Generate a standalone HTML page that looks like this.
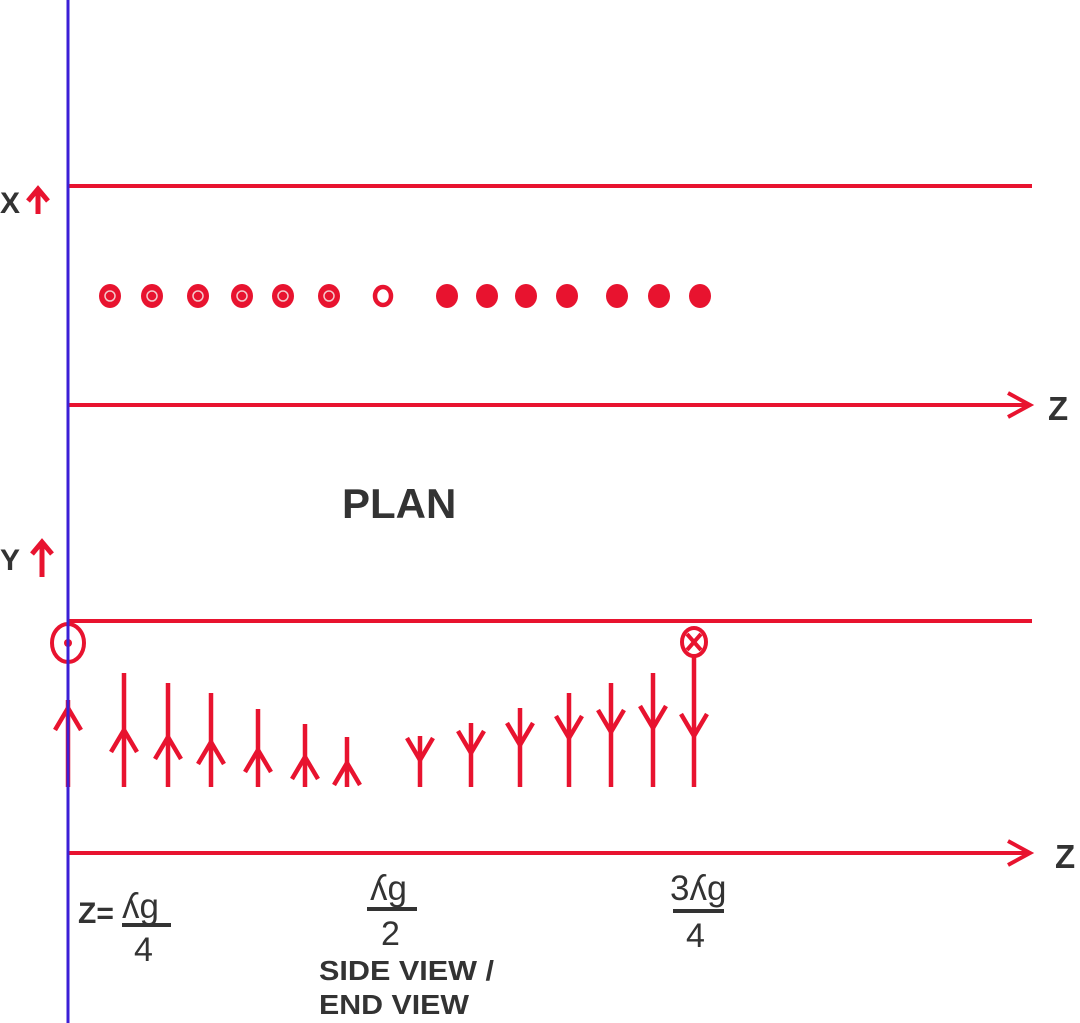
<!DOCTYPE html>
<html><head><meta charset="utf-8"><style>
html,body{margin:0;padding:0;background:#fff;}
svg{display:block;}
text{font-family:"Liberation Sans",sans-serif;fill:#333;}
</style></head><body>
<svg id="fig" width="1080" height="1023" viewBox="0 0 1080 1023">
  <g>
    <line x1="68" y1="186" x2="1032" y2="186" stroke="#e8132f" stroke-width="4"/>
    <line x1="68" y1="405" x2="1028" y2="405" stroke="#e8132f" stroke-width="4"/>
    <polyline points="1008,393 1030,405 1008,417" fill="none" stroke="#e8132f" stroke-width="4"/>
    <text x="1048" y="420" font-size="33" font-weight="bold">Z</text>
    <text x="0" y="213" font-size="30" font-weight="bold">X</text>
    <g stroke="#e8132f" stroke-width="5" fill="none">
      <line x1="38" y1="214" x2="38" y2="190"/><polyline points="28,201 38,189 48,201"/>
    </g>
    <g id="dots"></g>
    <text x="342" y="518" font-size="42" font-weight="bold">PLAN</text>
  </g>
  <g>
    <line x1="68" y1="621" x2="1032" y2="621" stroke="#e8132f" stroke-width="4"/>
    <line x1="68" y1="853" x2="1028" y2="853" stroke="#e8132f" stroke-width="4"/>
    <polyline points="1008,841 1030,853 1008,865" fill="none" stroke="#e8132f" stroke-width="4"/>
    <text x="1055" y="868" font-size="33" font-weight="bold">Z</text>
    <text x="0" y="570" font-size="30" font-weight="bold">Y</text>
    <g stroke="#e8132f" stroke-width="5" fill="none">
      <line x1="42" y1="577" x2="42" y2="543"/><polyline points="32,554 42,542 52,554"/>
    </g>
    <g id="arrows"></g>
    <g>
      <ellipse cx="68" cy="643" rx="16" ry="19" fill="none" stroke="#e8132f" stroke-width="4"/>
      <circle cx="68" cy="643" r="4" fill="#e8132f"/>
    </g>
    <g stroke="#e8132f" stroke-width="4" fill="none">
      <ellipse cx="694" cy="642" rx="12" ry="14"/>
      <line x1="687" y1="634" x2="701" y2="650"/><line x1="701" y1="634" x2="687" y2="650"/>
    </g>
  </g>
  <line x1="68" y1="0" x2="68" y2="1023" stroke="#3b1fd6" stroke-width="3"/>
  <g>
    <text x="78" y="923" font-size="30" font-weight="bold">Z=</text>
    <text x="122" y="918" font-size="35">ʎg</text>
    <line x1="122" y1="925" x2="171" y2="925" stroke="#333" stroke-width="4"/>
    <text x="134" y="961" font-size="34">4</text>
    <text x="370" y="900" font-size="35">ʎg</text>
    <line x1="367" y1="909" x2="417" y2="909" stroke="#333" stroke-width="4"/>
    <text x="381" y="945" font-size="34">2</text>
    <text x="670" y="900" font-size="35">3ʎg</text>
    <line x1="673" y1="911" x2="724" y2="911" stroke="#333" stroke-width="4"/>
    <text x="686" y="947" font-size="34">4</text>
    <text x="319" y="980" font-size="28" font-weight="bold" textLength="175" lengthAdjust="spacingAndGlyphs">SIDE VIEW /</text>
    <text x="319" y="1014" font-size="28" font-weight="bold" textLength="150" lengthAdjust="spacingAndGlyphs">END VIEW</text>
  </g>
</svg>
<script>
// plan view dot positions (z) and type
const dotZ = [110,152,198,242,283,329,383,447,487,526,567,617,659,700];
const dotType = ['out','out','out','out','out','out','ring','solid','solid','solid','solid','solid','solid','solid'];
// side view arrows: z position, tip top, chevron apex y, direction
const arrowZ = [68,124,168,211,258,305,347,420,471,520,569,611,653,694];
const arrowTop = [700,673,683,693,709,724,737,736,723,708,693,683,673,655];
const arrowApex = [708,730,737,742,750,757,763,760,753,745,738,732,728,736];
const arrowDir = ['up','up','up','up','up','up','up','down','down','down','down','down','down','down'];
const NS='http://www.w3.org/2000/svg', RED='#e8132f';
function mk(tag, attrs){const e=document.createElementNS(NS,tag);for(const k in attrs)e.setAttribute(k,attrs[k]);return e;}
const dg=document.getElementById('dots');
dotZ.forEach((z,i)=>{
  const g=mk('g',{});
  
  
  const t=dotType[i];
  if(t==='ring'){g.appendChild(mk('ellipse',{cx:z,cy:296,rx:8,ry:9,fill:'none',stroke:RED,'stroke-width':4.5}));}
  else{
    g.appendChild(mk('ellipse',{cx:z,cy:296,rx:11,ry:12,fill:RED}));
    if(t==='out'){g.appendChild(mk('circle',{cx:z,cy:296,r:5,fill:'none',stroke:'#f4c8cc','stroke-width':1.5}));}
  }
  dg.appendChild(g);
});
const ag=document.getElementById('arrows');
const bottom=787;
arrowZ.forEach((z,i)=>{
  const g=mk('g',{stroke:RED,'stroke-width':4.5,fill:'none'});
  
  
  g.appendChild(mk('line',{x1:z,y1:arrowTop[i],x2:z,y2:bottom}));
  const a=arrowApex[i];
  if(arrowDir[i]==='up') g.appendChild(mk('polyline',{points:(z-13)+','+(a+22)+' '+z+','+a+' '+(z+13)+','+(a+22)}));
  else g.appendChild(mk('polyline',{points:(z-13)+','+(a-22)+' '+z+','+a+' '+(z+13)+','+(a-22)}));
  ag.appendChild(g);
});
</script>
</body></html>
